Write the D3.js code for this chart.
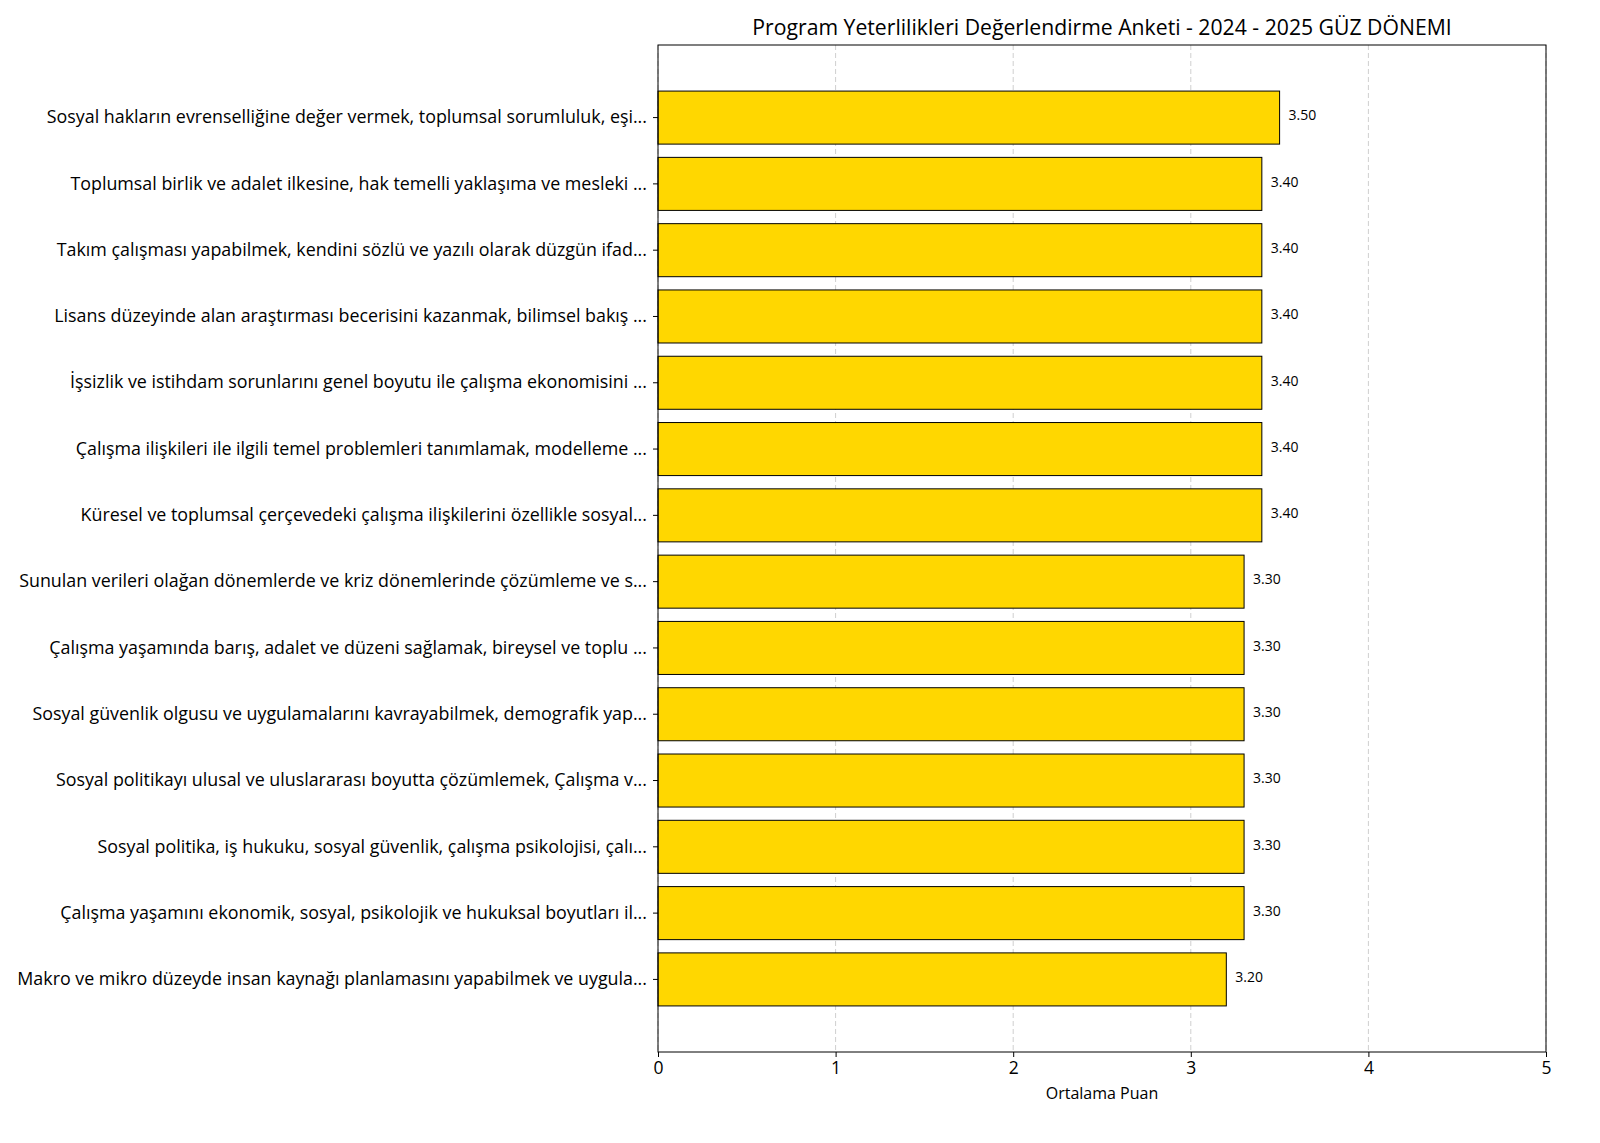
<!DOCTYPE html>
<html>
<head>
<meta charset="utf-8">
<script src="https://cdn.jsdelivr.net/npm/d3@7"></script>
<style>
  body { margin: 0; background: #fff; }
  text { font-family: "Open Sans", Roboto, sans-serif; }
</style>
</head>
<body>
<div id="chart"></div>
<script>
// competence statements (top to bottom) and mean scores
const labels = [
    "Sosyal hakların evrenselliğine değer vermek, toplumsal sorumluluk, eşi...",
    "Toplumsal birlik ve adalet ilkesine, hak temelli yaklaşıma ve mesleki ...",
    "Takım çalışması yapabilmek, kendini sözlü ve yazılı olarak düzgün ifad...",
    "Lisans düzeyinde alan araştırması becerisini kazanmak, bilimsel bakış ...",
    "İşsizlik ve istihdam sorunlarını genel boyutu ile çalışma ekonomisini ...",
    "Çalışma ilişkileri ile ilgili temel problemleri tanımlamak, modelleme ...",
    "Küresel ve toplumsal çerçevedeki çalışma ilişkilerini özellikle sosyal...",
    "Sunulan verileri olağan dönemlerde ve kriz dönemlerinde çözümleme ve s...",
    "Çalışma yaşamında barış, adalet ve düzeni sağlamak, bireysel ve toplu ...",
    "Sosyal güvenlik olgusu ve uygulamalarını kavrayabilmek, demografik yap...",
    "Sosyal politikayı ulusal ve uluslararası boyutta çözümlemek, Çalışma v...",
    "Sosyal politika, iş hukuku, sosyal güvenlik, çalışma psikolojisi, çalı...",
    "Çalışma yaşamını ekonomik, sosyal, psikolojik ve hukuksal boyutları il...",
    "Makro ve mikro düzeyde insan kaynağı planlamasını yapabilmek ve uygula..."
];
const scores = [3.5, 3.4, 3.4, 3.4, 3.4, 3.4, 3.4, 3.3, 3.3, 3.3, 3.3, 3.3, 3.3, 3.2];
const xTicks = [0, 1, 2, 3, 4, 5];

const chartTitle = "Program Yeterlilikleri Değerlendirme Anketi - 2024 - 2025 GÜZ DÖNEMI";
const xLabel = "Ortalama Puan";

const data = labels.map((l, i) => ({label: l, score: scores[i]}));

const W = 1600, H = 1143;
const margin = {top: 45, right: 54, bottom: 91, left: 658};
const width = W - margin.left - margin.right;
const height = H - margin.top - margin.bottom;

const svg = d3.select("#chart").append("svg")
    .attr("width", W)
    .attr("height", H);

const g = svg.append("g")
    .attr("transform", `translate(${margin.left},${margin.top})`);

const x = d3.scaleLinear().domain([0, 5]).range([0, width]);
const y = d3.scaleBand()
    .domain(labels)
    .range([0, height])
    .paddingInner(0.2)
    .paddingOuter(0.695);

// dashed grid
g.append("g")
    .selectAll("line")
    .data(xTicks)
    .enter().append("line")
    .attr("x1", d => x(d)).attr("x2", d => x(d))
    .attr("y1", 0).attr("y2", height)
    .attr("stroke", "#cfcfcf")
    .attr("stroke-width", 1)
    .attr("stroke-dasharray", "5,3");

// bars
g.selectAll(".bar")
    .data(data)
    .enter().append("rect")
    .attr("class", "bar")
    .attr("x", x(0))
    .attr("y", d => y(d.label))
    .attr("width", d => x(d.score) - x(0))
    .attr("height", y.bandwidth())
    .attr("fill", "#FFD700")
    .attr("stroke", "#000")
    .attr("stroke-width", 1);

// value labels
g.selectAll(".val")
    .data(data)
    .enter().append("text")
    .attr("class", "val")
    .attr("x", d => x(d.score) + 9)
    .attr("y", d => y(d.label) + y.bandwidth() / 2 - 1)
    .attr("dominant-baseline", "middle")
    .attr("font-size", 14)
    .attr("fill", "#000")
    .text(d => d.score.toFixed(2));

// axes
const xAxis = g.append("g")
    .attr("transform", `translate(0,${height})`)
    .call(d3.axisBottom(x).tickValues(xTicks).tickSize(5).tickPadding(5).tickFormat(d3.format("d")));
xAxis.selectAll("text").attr("font-size", 17.5).attr("fill", "#000");

const yAxis = g.append("g")
    .call(d3.axisLeft(y).tickSize(5).tickPadding(6));
yAxis.selectAll("text").attr("font-size", 17.85).attr("fill", "#000");

svg.selectAll(".domain").remove();
svg.selectAll(".tick line").attr("stroke", "#000");

// frame
g.append("rect")
    .attr("width", width).attr("height", height)
    .attr("fill", "none")
    .attr("stroke", "#000")
    .attr("stroke-width", 1);

// title and x label
svg.append("text")
    .attr("x", margin.left + width / 2)
    .attr("y", 35)
    .attr("text-anchor", "middle")
    .attr("font-size", 21.2)
    .text(chartTitle);

svg.append("text")
    .attr("x", margin.left + width / 2)
    .attr("y", 1099)
    .attr("text-anchor", "middle")
    .attr("font-size", 16)
    .text(xLabel);
</script>
</body>
</html>
